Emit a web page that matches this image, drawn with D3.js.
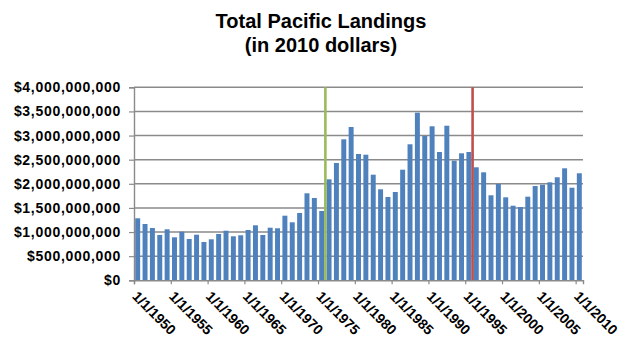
<!DOCTYPE html>
<html>
<head>
<meta charset="utf-8">
<script src="https://cdn.jsdelivr.net/npm/d3@7"></script>
<style>
  html, body { margin: 0; padding: 0; background: #fff; }
  svg { display: block; font-family: "Liberation Sans", Arial, sans-serif; }
</style>
</head>
<body>
<svg id="chart" width="624" height="340"></svg>
<script>
// Annual Pacific landings, value in millions of 2010 dollars
const years = d3.range(1950, 2011);
const landingsMillions = [
  1285, 1167, 1084, 939, 1057, 891, 1007, 856, 945, 794,
  850, 960, 1028, 912, 933, 1043, 1140, 939, 1090, 1078,
  1339, 1202, 1395, 1803, 1706, 1436, 2093, 2431, 2922, 3177,
  2618, 2603, 2189, 1886, 1726, 1830, 2292, 2819, 3474, 2991,
  3192, 2659, 3204, 2479, 2632, 2659, 2342, 2238, 1762, 1996,
  1720, 1546, 1519, 1733, 1954, 1981, 2031, 2135, 2321, 1919,
  2218
];
const yTicksMillions = [0, 500, 1000, 1500, 2000, 2500, 3000, 3500, 4000];
const xTickYears = [1950, 1955, 1960, 1965, 1970, 1975, 1980, 1985, 1990, 1995, 2000, 2005, 2010];
const markerYears = [1976, 1996];
const markerColors = ["#9BBB59", "#C0504D"];
const titleLines = ["Total Pacific Landings", "(in 2010 dollars)"];

const svg = d3.select("#chart");
const plotLeft = 134, plotRight = 583, plotTop = 87.3, plotBottom = 280.3;

const x = d3.scaleLinear().domain([1950, 2011]).range([plotLeft, plotRight]);
const y = d3.scaleLinear().domain([0, 4000]).range([plotBottom, plotTop]);
const step = x(1951) - x(1950);
const barPad = 1.2;

// title
svg.append("g").selectAll("text").data(titleLines).join("text")
  .attr("x", 321).attr("y", (d, i) => 28 + i * 24)
  .attr("text-anchor", "middle")
  .attr("font-size", 20).attr("font-weight", "bold").attr("fill", "#000")
  .text(d => d);

// horizontal gridlines
svg.append("g").selectAll("line").data(yTicksMillions.filter(d => d > 0)).join("line")
  .attr("x1", plotLeft).attr("x2", plotRight)
  .attr("y1", d => y(d)).attr("y2", d => y(d))
  .attr("stroke", "#8a8a8a").attr("stroke-width", 1.4);

// bars
svg.append("g").selectAll("rect").data(years).join("rect")
  .attr("x", d => x(d) + barPad)
  .attr("width", step - 2 * barPad)
  .attr("y", (d, i) => y(landingsMillions[i]))
  .attr("height", (d, i) => plotBottom - y(landingsMillions[i]))
  .attr("fill", "#4F81BD");

// marker lines
svg.append("g").selectAll("line").data(markerYears).join("line")
  .attr("x1", d => x(d)).attr("x2", d => x(d))
  .attr("y1", plotTop).attr("y2", plotBottom)
  .attr("stroke", (d, i) => markerColors[i]).attr("stroke-width", 2.6);

const fmt = d3.format("$,");

// y axis
const yAxis = svg.append("g").attr("transform", `translate(${plotLeft},0)`)
  .call(d3.axisLeft(y).tickValues(yTicksMillions).tickSize(5).tickPadding(8)
    .tickFormat(d => fmt(d * 1e6)));
yAxis.select(".domain").attr("stroke", "#8a8a8a").attr("stroke-width", 1.4);
yAxis.selectAll(".tick line").attr("stroke", "#8a8a8a").attr("stroke-width", 1.2);
yAxis.selectAll("text").attr("font-size", 14).attr("font-weight", "bold")
  .attr("font-family", "Liberation Sans, Arial, sans-serif")
  .attr("letter-spacing", 0.7).attr("fill", "#000");

// x axis
const xAxis = svg.append("g").attr("transform", `translate(0,${plotBottom})`)
  .call(d3.axisBottom(x).tickValues(xTickYears).tickSize(4).tickFormat(d => "1/1/" + d));
xAxis.select(".domain").attr("stroke", "#8a8a8a").attr("stroke-width", 1.4);
xAxis.selectAll(".tick line").attr("stroke", "#8a8a8a").attr("stroke-width", 1.2);
xAxis.selectAll("text")
  .attr("font-size", 14).attr("font-weight", "bold")
  .attr("font-family", "Liberation Sans, Arial, sans-serif")
  .attr("fill", "#000")
  .attr("text-anchor", "start")
  .attr("dy", null)
  .attr("y", 0)
  .attr("transform", "translate(-3,17) rotate(45)");
</script>
</body>
</html>
